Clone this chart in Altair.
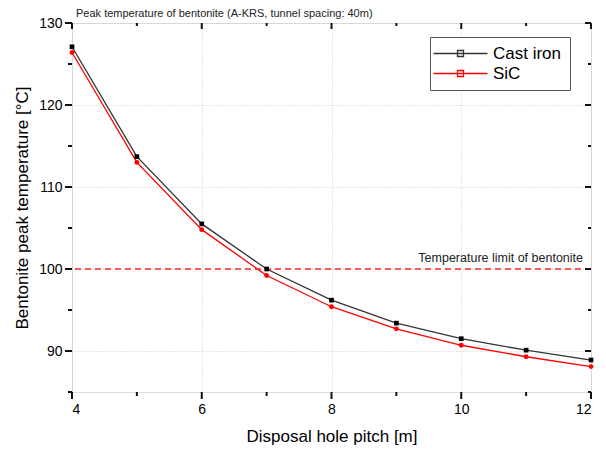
import altair as alt
import pandas as pd

pitch = [4, 5, 6, 7, 8, 9, 10, 11, 12]
cast_iron = [127.1, 113.7, 105.5, 100.0, 96.2, 93.4, 91.5, 90.1, 88.9]
sic = [126.4, 113.0, 104.8, 99.2, 95.4, 92.7, 90.7, 89.3, 88.1]
series_names = ["Cast iron", "SiC"]
series_colors = ["#333333", "#ff0000"]
point_colors = ["#000000", "#ff0000"]
limit_value = 100
limit_label = "Temperature limit of bentonite"
title_text = "Peak temperature of bentonite (A-KRS, tunnel spacing: 40m)"
x_major = [4, 6, 8, 10, 12]
x_minor = [5, 7, 9, 11]
y_major = [90, 100, 110, 120, 130]
y_minor = [85, 95, 105, 115, 125]

W, H = 519, 369

rows = []
for p, a, b in zip(pitch, cast_iron, sic):
    rows.append({"pitch": p, "temp": a, "series": series_names[0]})
    rows.append({"pitch": p, "temp": b, "series": series_names[1]})
df = pd.DataFrame(rows)

FONT = "Liberation Sans"
xs = alt.Scale(domain=[4, 12], nice=False, zero=False)
ys = alt.Scale(domain=[85, 130], nice=False, zero=False)
color_scale = alt.Scale(domain=series_names, range=series_colors)

x_main = alt.X("pitch:Q", scale=xs, axis=alt.Axis(
    values=x_major, title="Disposal hole pitch [m]", grid=True, gridDash=[1, 2],
    gridColor="#cccccc", ticks=False, domain=False,
    labelFontSize=14, titleFontSize=17, labelFont=FONT, titleFont=FONT,
    labelColor="black", titleColor="black", titleFontWeight="normal",
    titlePadding=12, labelPadding=10, format="d", orient="bottom"))
y_main = alt.Y("temp:Q", scale=ys, axis=alt.Axis(
    values=y_major, title="Bentonite peak temperature [°C]", grid=True, gridDash=[1, 2],
    gridColor="#cccccc", ticks=False, domain=False,
    labelFontSize=14, titleFontSize=17, labelFont=FONT, titleFont=FONT,
    labelColor="black", titleColor="black", titleFontWeight="normal",
    titlePadding=7, labelPadding=10, format="d", orient="left"))

legend = alt.Legend(
    title=None, orient="none", legendX=358, legendY=14,
    symbolType="M-3.6,0H3.6M-0.4,-0.4H0.4V0.4H-0.4Z", symbolSize=225,
    symbolStrokeWidth=1.3, labelFontSize=17, labelFont=FONT, labelColor="black",
    strokeColor="#555555", fillColor="white", padding=8, labelOffset=24,
    symbolOffset=14, rowPadding=2, labelLimit=200)

base = alt.Chart(df)
lines = base.mark_line(strokeWidth=1.3).encode(
    x=x_main, y=y_main,
    color=alt.Color("series:N", scale=color_scale, legend=legend))

sq = base.transform_filter(alt.datum.series == series_names[0]).mark_square(
    size=22, filled=True, color=point_colors[0], opacity=1).encode(
    x=alt.X("pitch:Q", scale=xs, axis=None), y=alt.Y("temp:Q", scale=ys, axis=None))
ci = base.transform_filter(alt.datum.series == series_names[1]).mark_circle(
    size=24, color=point_colors[1], opacity=1).encode(
    x=alt.X("pitch:Q", scale=xs, axis=None), y=alt.Y("temp:Q", scale=ys, axis=None))

limit_df = pd.DataFrame({"v": [limit_value], "label": [limit_label]})
limit_rule = alt.Chart(limit_df).mark_rule(color="#ff2222", strokeDash=[6, 4], strokeWidth=1.5).encode(
    y=alt.Y("v:Q", scale=ys, axis=None))
limit_text = alt.Chart(limit_df).mark_text(
    align="right", baseline="bottom", dy=-4, fontSize=12.5, font=FONT, color="#222222").encode(
    y=alt.Y("v:Q", scale=ys, axis=None), x=alt.value(511), text="label:N")

title_df = pd.DataFrame({"t": [title_text]})
title_mark = alt.Chart(title_df).mark_text(
    align="left", baseline="middle", fontSize=11, font=FONT, color="#222222").encode(
    x=alt.value(4), y=alt.value(-9), text="t:N")

# tick marks drawn through the scales
TC = "#111111"
TW = 2
xmaj = pd.DataFrame({"v": x_major})
xmin = pd.DataFrame({"v": x_minor})
ymaj = pd.DataFrame({"v": y_major})
ymin = pd.DataFrame({"v": y_minor})


def xticks(d, y1, y2):
    return alt.Chart(d).mark_rule(color=TC, strokeWidth=TW).encode(
        x=alt.X("v:Q", scale=xs, axis=None), y=alt.value(y1), y2=alt.value(y2))


def yticks(d, x1, x2):
    return alt.Chart(d).mark_rule(color=TC, strokeWidth=TW).encode(
        y=alt.Y("v:Q", scale=ys, axis=None), x=alt.value(x1), x2=alt.value(x2))


tick_layers = [
    xticks(xmaj, H, H + 7), xticks(xmin, H, H + 4),
    xticks(xmaj, 0, 6), xticks(xmin, 0, 3),
    yticks(ymaj, -7, 0), yticks(ymin, -4, 0),
    yticks(ymaj, W - 6, W), yticks(ymin, W - 3, W),
]

chart = alt.layer(
    lines, limit_rule, sq, ci, limit_text, title_mark, *tick_layers
).resolve_axis(x="independent", y="independent").properties(
    width=W, height=H,
    autosize=alt.AutoSizeParams(type="none"),
    padding={"left": 64, "top": 15, "right": 7, "bottom": 56},
).configure_view(stroke="#111111", strokeWidth=1.8).configure(background="white")

chart.save("out.html", embed_options={"renderer": "svg", "actions": False})
